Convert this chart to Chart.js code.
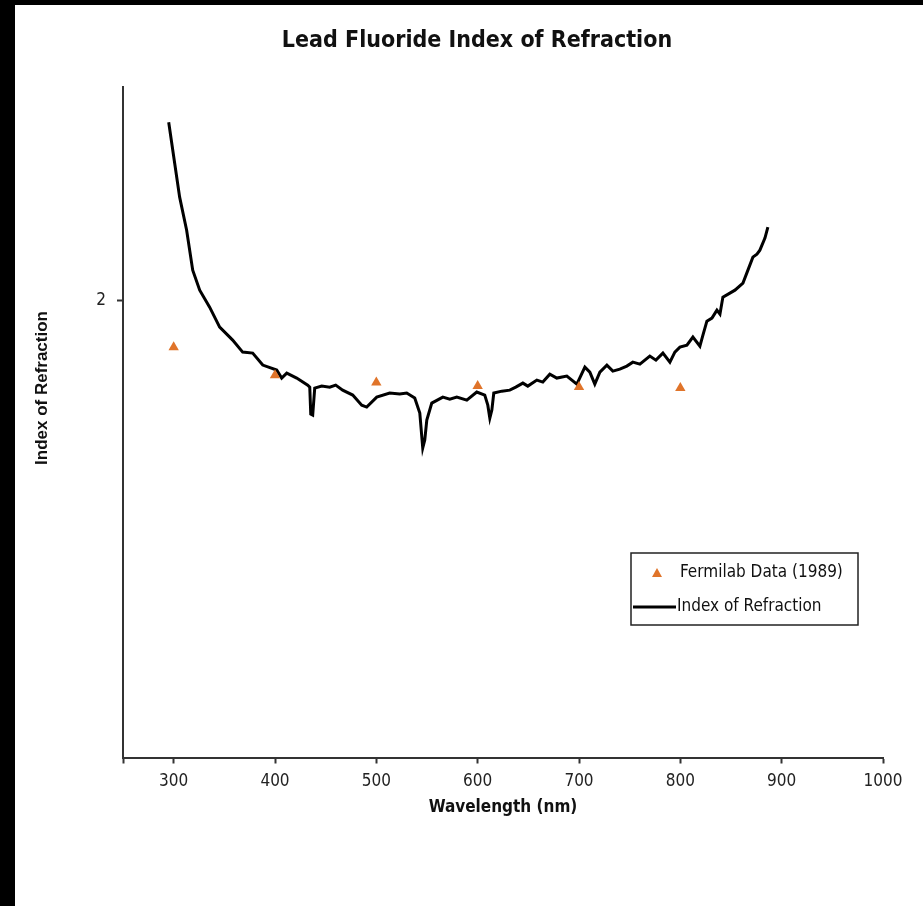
<!DOCTYPE html>
<html lang="en">
<head>
<meta charset="UTF-8">
<title>Lead Fluoride Index of Refraction</title>
<script src="https://cdn.jsdelivr.net/npm/chart.js"></script>
<style>
  html, body { margin: 0; padding: 0; background: #000; }
  #wrap { position: absolute; left: 15px; top: 5px; width: 908px; height: 901px; background: #fff; }
</style>
</head>
<body>
<div id="wrap"><canvas id="chart" width="908" height="901"></canvas></div>
<script>
// measured curve, wavelength in nm
const wavelengthNm = [295.1, 301.0, 305.9, 312.8, 318.8, 325.7, 335.5, 345.4, 355.3, 358.2,
  368.1, 378.0, 387.9, 401.7, 406.6, 411.6, 421.4, 432.3, 434.3, 435.3,
  437.2, 439.2, 446.1, 454.0, 459.9, 466.8, 476.7, 485.6, 490.5, 500.4,
  513.2, 523.1, 530.0, 537.9, 542.9, 545.8, 547.8, 549.8, 554.7, 565.6,
  572.5, 579.4, 589.3, 599.1, 607.0, 610.0, 612.0, 614.0, 615.9, 623.8,
  631.7, 637.6, 644.6, 649.5, 658.4, 664.3, 671.2, 678.1, 688.0, 697.9,
  705.8, 710.7, 715.6, 720.6, 727.5, 733.4, 740.3, 747.2, 753.1, 760.1,
  769.9, 775.9, 782.8, 789.7, 794.6, 799.6, 806.5, 812.4, 819.3, 822.3,
  826.2, 831.2, 836.1, 839.1, 842.0, 848.9, 853.9, 861.8, 866.7, 871.6,
  875.6, 878.5, 883.5, 886.4];
const refractiveIndex = [2.1945, 2.1497, 2.1126, 2.0765, 2.0328, 2.0109, 1.9923, 1.9705, 1.9596, 1.9563,
  1.9432, 1.9421, 1.9290, 1.9235, 1.9148, 1.9202, 1.9148, 1.9071, 1.9049, 1.8754,
  1.8743, 1.9038, 1.9060, 1.9049, 1.9071, 1.9016, 1.8962, 1.8852, 1.8831, 1.8940,
  1.8984, 1.8973, 1.8984, 1.8929, 1.8765, 1.8383, 1.8470, 1.8689, 1.8874, 1.8940,
  1.8918, 1.8940, 1.8907, 1.8995, 1.8962, 1.8852, 1.8710, 1.8798, 1.8984, 1.9005,
  1.9016, 1.9049, 1.9093, 1.9060, 1.9126, 1.9104, 1.9191, 1.9148, 1.9169, 1.9082,
  1.9268, 1.9213, 1.9082, 1.9213, 1.9290, 1.9224, 1.9246, 1.9279, 1.9322, 1.9301,
  1.9388, 1.9344, 1.9421, 1.9322, 1.9432, 1.9486, 1.9508, 1.9596, 1.9497, 1.9617,
  1.9770, 1.9803, 1.9891, 1.9847, 2.0033, 2.0077, 2.0109, 2.0186, 2.0328, 2.0470,
  2.0503, 2.0546, 2.0678, 2.0798];

// Fermilab points (1989)
const fermilabNm = [300, 400, 500, 600, 700, 800];
const fermilabIndex = [1.9486, 1.918, 1.910, 1.906, 1.905, 1.904];

const xTicks = [250, 300, 400, 500, 600, 700, 800, 900, 1000];
const yTicks = [2];

const NARROW = "'Liberation Sans Narrow', 'DejaVu Sans Condensed', 'Arial Narrow', sans-serif";
const ORANGE = '#E0742A';

// legend box drawn inside the plot, like the spreadsheet original
const insideLegend = {
  id: 'insideLegend',
  afterDraw(chart) {
    const ctx = chart.ctx;
    const x = 616, y = 548, w = 227, h = 72;
    ctx.save();
    ctx.fillStyle = '#fff';
    ctx.fillRect(x, y, w, h);
    ctx.strokeStyle = '#222';
    ctx.lineWidth = 1.5;
    ctx.strokeRect(x, y, w, h);
    ctx.font = '17px ' + NARROW;
    ctx.textBaseline = 'middle';
    ctx.fillStyle = '#111';
    chart.data.datasets.forEach((ds, i) => {
      const cy = y + 20 + i * 34;
      if (ds.showLine === false) {
        ctx.fillStyle = ds.pointBackgroundColor;
        ctx.beginPath();
        ctx.moveTo(x + 26, cy - 5);
        ctx.lineTo(x + 31, cy + 4);
        ctx.lineTo(x + 21, cy + 4);
        ctx.closePath();
        ctx.fill();
      } else {
        ctx.strokeStyle = ds.borderColor;
        ctx.lineWidth = ds.borderWidth;
        ctx.beginPath();
        ctx.moveTo(x + 2, cy);
        ctx.lineTo(x + 45, cy);
        ctx.stroke();
      }
      ctx.fillStyle = '#111';
      ctx.fillText(ds.label, i === 0 ? x + 49 : x + 46, cy);
    });
    ctx.restore();
  }
};

// vertical axis title, sits a little above the middle of the axis
const yAxisTitle = {
  id: 'yAxisTitle',
  afterDraw(chart) {
    const ctx = chart.ctx;
    ctx.save();
    ctx.translate(27, 383);
    ctx.rotate(-Math.PI / 2);
    ctx.font = "bold 17px 'Liberation Sans', Arial, sans-serif";
    ctx.fillStyle = '#111';
    ctx.textAlign = 'center';
    ctx.textBaseline = 'middle';
    ctx.fillText('Index of Refraction', 0, 0);
    ctx.restore();
  }
};

new Chart(document.getElementById('chart'), {
  type: 'scatter',
  data: {
    datasets: [
      {
        label: 'Fermilab Data (1989)',
        data: fermilabNm.map((v, i) => ({ x: v, y: fermilabIndex[i] })),
        showLine: false,
        pointStyle: 'triangle',
        pointRadius: 6,
        pointBackgroundColor: ORANGE,
        pointBorderColor: ORANGE,
        pointBorderWidth: 0
      },
      {
        label: 'Index of Refraction',
        data: wavelengthNm.map((v, i) => ({ x: v, y: refractiveIndex[i] })),
        showLine: true,
        borderColor: '#000',
        borderWidth: 3,
        pointRadius: 0,
        tension: 0
      }
    ]
  },
  options: {
    responsive: false,
    animation: false,
    layout: { padding: { left: 56, right: 40, top: 0, bottom: 0 } },
    plugins: {
      legend: { display: false },
      tooltip: { enabled: false },
      title: {
        display: true,
        text: 'Lead Fluoride Index of Refraction',
        color: '#111',
        font: { family: NARROW, size: 23, weight: 'bold' },
        padding: { top: 22.2, bottom: 32.2 }
      }
    },
    scales: {
      x: {
        type: 'linear',
        min: 250,
        max: 1000,
        afterBuildTicks: s => { s.ticks = xTicks.map(v => ({ value: v })); },
        afterFit: s => { s.height = 148.5; },
        ticks: {
          autoSkip: false,
          maxRotation: 0,
          padding: 8,
          color: '#222',
          font: { family: NARROW, size: 17 },
          callback: v => (v === 250 ? '' : String(v))
        },
        grid: { drawOnChartArea: false, drawTicks: true, tickLength: 6, tickWidth: 2, tickColor: '#333' },
        border: { display: true, color: '#333', width: 2 },
        title: {
          display: true,
          text: 'Wavelength (nm)',
          color: '#111',
          font: { family: NARROW, size: 17, weight: 'bold' },
          padding: { top: 0, bottom: 88 }
        }
      },
      y: {
        type: 'linear',
        min: 1.5,
        max: 2.233,
        afterBuildTicks: s => { s.ticks = yTicks.map(v => ({ value: v })); },
        afterFit: s => { s.width = 52; },
        ticks: {
          padding: 11,
          color: '#222',
          font: { family: NARROW, size: 17 },
          callback: v => String(v)
        },
        grid: { drawOnChartArea: false, drawTicks: true, tickLength: 6, tickWidth: 2, tickColor: '#333' },
        border: { display: true, color: '#333', width: 2 }
      }
    }
  },
  plugins: [insideLegend, yAxisTitle]
});
</script>
</body>
</html>
